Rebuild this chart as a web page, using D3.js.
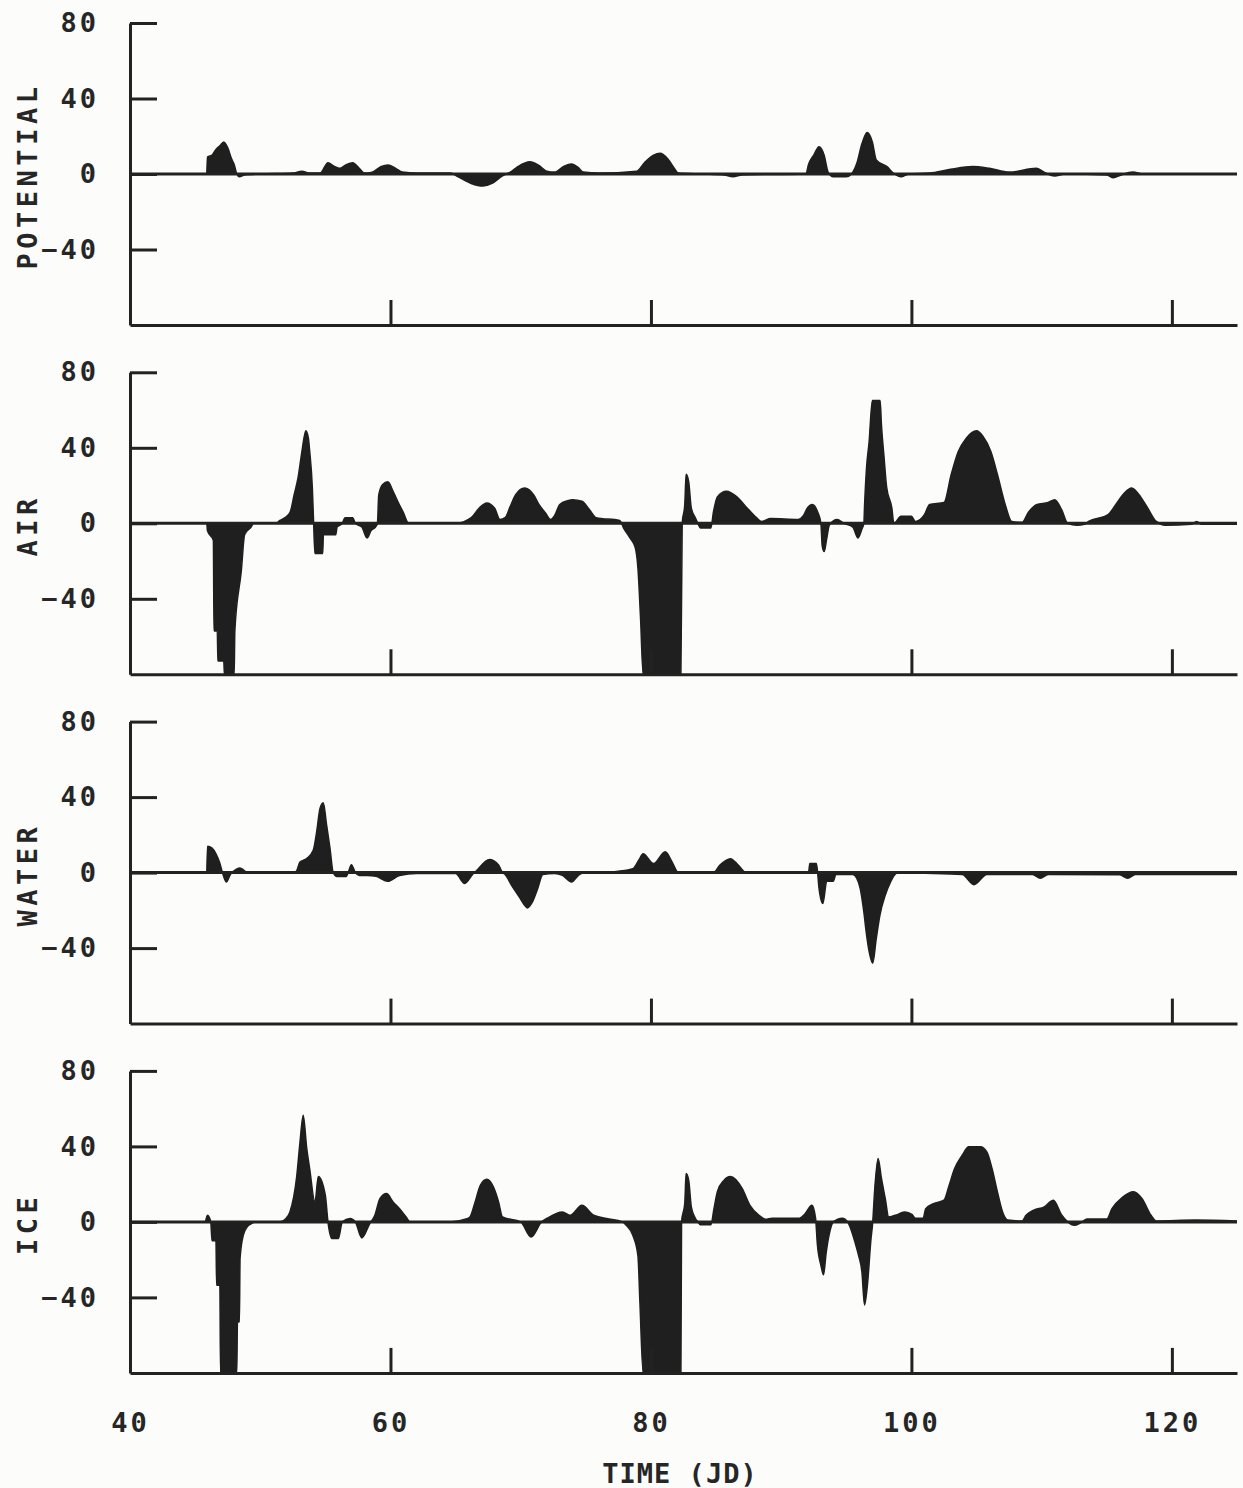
<!DOCTYPE html>
<html>
<head>
<meta charset="utf-8">
<script src="https://cdn.jsdelivr.net/npm/d3@7"></script>
<style>
  html, body { margin: 0; padding: 0; background: #fcfcfa; }
  svg text { font-family: "DejaVu Sans Mono", "Liberation Mono", monospace; font-weight: bold; fill: #262626; }
</style>
</head>
<body>
<div id="chart"></div>
<script>
// [time (JD), value] pairs
var potential = [
  [45.9,0],[45.95,9],[46.3,10],[46.6,13],[46.9,15],[47.2,17],[47.5,14],[47.8,8],[48.0,5],[48.2,0],[48.4,-1.5],[48.8,-0.5],[50,0],
  [52.5,0.5],[53.2,1.5],[53.8,0.5],[54.6,0.5],[55.2,6],[55.7,4],[56.1,3],[56.6,5],[57.1,6],[57.6,3],[58.0,0.5],[58.6,1],
  [59.3,4],[59.8,4.8],[60.4,3],[60.9,1],[62,0.5],[64.6,0.5],[65.2,-1.5],[66.2,-5],[67.1,-6.4],[67.8,-5],[68.6,-1],[69.2,1],
  [69.8,4],[70.7,6.5],[71.4,4.5],[72,1.5],[72.6,1],[73.3,4],[73.9,5.3],[74.4,3.5],[74.8,1],[76,0.5],[78.9,1.5],[79.5,6],
  [80.2,10],[80.7,11],[81.3,8],[81.8,3],[82.1,0.5],[84,0],[85.6,-0.5],[86.3,-1.5],[87,-0.5],[91.9,0],[92.1,5],[92.5,10],
  [92.9,14.5],[93.3,10],[93.6,1],[94,-1.5],[95,-1.5],[95.4,0],[95.8,5.5],[96.2,16],[96.6,22],[97.0,17],[97.3,7.5],[98.1,4],
  [98.7,0],[99.2,-1.5],[99.8,0],[101.4,0.5],[103,2.5],[104.7,4],[106,3],[107.5,1],[109.6,3],[110.3,0.5],[111,-1],[111.8,0],
  [115,-0.5],[115.5,-2],[116.1,-0.5],[117,1],[117.8,0],[125,0]
];

var air = [
  [45.9,0],[45.95,-4],[46.4,-9],[46.45,-57],[46.7,-57],[46.75,-73],[47.2,-73],[47.25,-80],[48.0,-80],[48.05,-57],[48.55,-25],
  [48.8,-6],[49.3,-2],[49.5,0],[51.2,0],[51.5,1.5],[51.9,3],[52.3,6],[52.6,15],[52.9,24],[53.2,38],[53.5,49],[53.7,45],
  [53.8,38],[54.0,19],[54.1,0],[54.2,-16],[54.8,-16],[54.85,-6],[55.8,-6],[55.9,-2],[56.3,0],[56.5,3],[57.1,3],[57.3,0],
  [57.8,-2],[58.2,-7.8],[58.5,-4],[58.9,-1.5],[59.0,0],[59.1,15],[59.4,20.5],[59.8,22],[60.2,17],[60.6,11],[61.0,5.5],
  [61.4,0],[65,0],[66.2,3],[66.8,8],[67.4,10.8],[68,8],[68.4,2],[68.8,3],[69.2,9],[69.6,15],[70.3,18.7],[71,15],[71.4,10],
  [71.9,5.5],[72.3,2],[72.6,4],[73.0,10],[73.6,12],[74.0,12.5],[74.7,11.7],[75.3,7],[75.8,3],[77.6,1.5],[77.9,-2.5],
  [78.4,-7.8],[78.8,-13],[79.0,-23.7],[79.2,-50],[79.4,-80],[82.3,-80],[82.4,0],[82.6,10],[82.7,26],[82.9,22],[83.1,8],
  [83.4,3],[83.6,0],[83.8,-2.5],[84.6,-2.5],[84.8,6],[85.1,14],[85.8,17],[86.6,14],[87.4,8],[88.1,3],[88.5,1],[89.2,2.5],
  [91.3,2],[91.7,4],[92.0,8],[92.4,10],[92.8,6],[93.05,0],[93.15,-12],[93.3,-15],[93.5,-8],[93.7,-1],[94.3,2],[94.8,0],
  [95.5,-2],[95.9,-7.8],[96.2,-3],[96.35,0],[96.4,9],[96.55,29],[96.75,43],[97.0,65],[97.6,65],[97.7,52],[97.9,35],
  [98.1,19],[98.5,8],[98.65,0],[99.2,3.7],[100,3.7],[100.3,1],[101.0,4.6],[101.4,10],[102.5,11],[103.06,26],[103.6,38],
  [104.2,45],[105,49],[105.5,46],[106.1,38],[106.6,26],[107.2,10],[107.7,1],[108.5,0.5],[109.0,6],[109.65,10],[110.5,11],
  [111.0,12.5],[111.55,7],[112,0],[112.7,-1],[113.3,-0.5],[113.6,1],[115.1,4.6],[115.7,10],[116.35,16],[116.9,18.7],
  [117.6,14],[118.15,8],[118.8,1],[119.5,-1],[121.5,-0.5],[121.9,1],[122.3,-0.5],[125,-0.5]
];

var water = [
  [45.9,0],[45.95,14],[46.3,13],[46.6,10],[46.9,5],[47.1,0],[47.4,-5],[47.7,-1],[48.1,1.5],[48.4,2.5],[48.7,1.5],[49,0],
  [52.6,0],[52.8,1],[53.05,5.6],[53.56,7.4],[54.07,11.8],[54.33,21.5],[54.59,34],[54.84,37],[55.1,25],[55.36,12.7],
  [55.6,0],[55.9,-2],[56.6,-2],[56.8,1],[57.0,4.2],[57.3,0],[57.6,-1.5],[58.2,-1.5],[58.9,-2],[59.8,-4.6],[60.7,-1.5],
  [62,-0.5],[65.0,-0.5],[65.7,-5.8],[66.3,-1],[66.6,1],[67.6,7],[68.3,4],[68.6,0],[68.8,-1],[69.3,-6.7],[69.9,-13],
  [70.3,-17.3],[70.5,-18.7],[70.9,-15.5],[71.3,-8.5],[71.7,-1],[72.6,-0.5],[73.2,-1.5],[73.9,-5],[74.5,-1],[75,0],
  [77.2,0.5],[78.6,2],[79.1,7],[79.4,10],[80.2,4.8],[81.1,11],[81.6,6],[82.1,0],[84.8,0],[85.3,4],[86.1,7.4],[86.7,4],
  [87.3,0],[92.1,0],[92.2,4.8],[92.7,4.8],[92.8,0],[92.9,-8],[93.2,-16.4],[93.5,-4.6],[94.0,-4.6],[94.2,-1],[95.5,-1],
  [95.8,-3],[96.07,-8.5],[96.35,-21],[96.53,-31.5],[96.76,-42],[97.03,-48],[97.3,-35],[97.58,-22.6],[97.99,-12],
  [98.4,-5],[98.68,-1.4],[99.1,0.5],[99.5,0],[103.9,-1],[104.8,-6.4],[105.8,-1],[109.3,-1],[109.9,-3],[110.5,-1],
  [116.0,-1.2],[116.6,-3],[117.2,-1],[125,-1]
];

var ice = [
  [45.8,0],[45.95,3.5],[46.2,0],[46.3,-10],[46.6,-10],[46.65,-33.6],[46.9,-33.6],[46.95,-80],[48.2,-80],[48.25,-53],
  [48.4,-53],[48.45,-19.4],[48.7,-7],[49.0,-2.6],[49.3,-1],[49.6,0],[51.5,0],[52.0,2],[52.28,5.3],[52.8,24],[53.05,42],
  [53.3,56.5],[53.57,39],[53.8,28],[54.2,10.6],[54.46,24],[55.0,14],[55.2,0],[55.5,-8.8],[56.0,-8.8],[56.3,0],[56.9,1.8],
  [57.3,0],[57.8,-8.5],[58.4,-1],[58.8,3.5],[59.2,12.4],[59.7,15],[60.2,10.6],[60.7,7],[61.2,2.6],[61.5,0],[64.6,0],
  [65.8,1.5],[66.1,2.6],[66.5,10.6],[66.9,19.4],[67.4,22.6],[67.9,18.6],[68.3,10.6],[68.6,2.6],[70.0,0],[70.8,-8],
  [71.6,0],[72,1.8],[73.2,5.3],[73.8,3.5],[74.7,8.8],[75.6,3.5],[76.6,1.8],[77.8,0],[78.1,-1.8],[78.6,-7],[79.0,-17.7],
  [79.15,-42],[79.4,-80],[82.3,-80],[82.35,0],[82.6,10],[82.7,25.6],[82.9,22],[83.1,8],[83.4,2],[83.6,0],[83.8,-1.5],
  [84.6,-1.5],[84.84,7],[85.1,16],[85.6,22],[86.1,24],[87.0,17.7],[87.6,8.8],[88.3,3.5],[88.8,1.4],[89.3,2],[91.4,2],
  [91.8,4],[92.36,8.8],[92.64,2],[92.78,-12],[93.05,-23],[93.25,-28],[93.46,-16],[93.74,-5],[94.0,0],[94.7,2],[95.1,0],
  [95.25,-2],[95.66,-10.6],[95.94,-17.7],[96.2,-26.5],[96.4,-44],[96.6,-35],[96.9,-8.8],[97.03,0],[97.17,16],[97.44,33.6],
  [97.7,23],[97.99,12.4],[98.26,2.6],[98.96,4],[99.5,5.3],[100.04,4],[100.3,2],[100.9,2],[101.1,7],[101.7,9.7],
  [102.5,11.5],[102.9,19.4],[103.3,28],[103.9,35.3],[104.4,39.8],[105.3,39.8],[105.8,37],[106.2,28],[106.6,16],[107.0,5.3],
  [107.4,1],[108.5,0.5],[108.8,3.5],[109.4,6.2],[110.2,8],[110.9,11.5],[111.55,3.5],[112.0,0],[112.5,-1.8],[113.0,-0.5],
  [113.5,1.5],[115.0,1.5],[115.4,7],[116.2,13],[117.05,16],[117.7,12.4],[118.4,3.5],[118.8,0.5],[121.8,1],[125,0.5]
];

var panelNames = ["POTENTIAL", "AIR", "WATER", "ICE"];
var panelData = [potential, air, water, ice];
var yTicks = [80, 40, 0, -40];
var xTicks = [60, 80, 100, 120];
var xLabels = [40, 60, 80, 100, 120];

var width = 1243, height = 1488;
var left = 130, right = 1237;
var firstTop = 23, panelStep = 349.3, panelH = 302;

var svg = d3.select("#chart").append("svg")
  .attr("width", width)
  .attr("height", height);

svg.append("rect")
  .attr("width", width)
  .attr("height", height)
  .attr("fill", "#fcfcfa");

var x = d3.scaleLinear().domain([40, 125]).range([left, right]);

panelData.forEach(function (series, i) {
  var top = firstTop + i * panelStep;
  var y = d3.scaleLinear().domain([-80, 80]).range([top + panelH, top]);
  var g = svg.append("g");

  g.append("clipPath")
    .attr("id", "clip" + i)
    .append("rect")
    .attr("x", left)
    .attr("y", top)
    .attr("width", right - left)
    .attr("height", panelH);

  var area = d3.area()
    .curve(d3.curveMonotoneX)
    .x(function (d) { return x(d[0]); })
    .y0(y(0))
    .y1(function (d) { return y(d[1]); });

  g.append("path")
    .datum(series)
    .attr("clip-path", "url(#clip" + i + ")")
    .attr("d", area)
    .attr("fill", "#1f1f1f")
    .attr("stroke", "#1f1f1f")
    .attr("stroke-width", 1.5)
    .attr("stroke-linejoin", "round");

  // zero line
  g.append("line")
    .attr("x1", left)
    .attr("x2", right)
    .attr("y1", y(0))
    .attr("y2", y(0))
    .attr("stroke", "#222")
    .attr("stroke-width", 3);

  var yAxis = g.append("g")
    .attr("transform", "translate(" + left + ",0)")
    .call(d3.axisLeft(y).tickValues(yTicks).tickSize(-27).tickSizeOuter(0).tickPadding(31));

  var xAxis = g.append("g")
    .attr("transform", "translate(0," + (top + panelH) + ")")
    .call(d3.axisBottom(x)
      .tickValues(i === 3 ? xLabels : xTicks)
      .tickSize(-25)
      .tickSizeOuter(0)
      .tickPadding(40)
      .tickFormat(i === 3 ? d3.format("d") : ""));

  [yAxis, xAxis].forEach(function (ax) {
    ax.select(".domain").attr("stroke", "#222").attr("stroke-width", 3);
    ax.selectAll(".tick line").attr("stroke", "#222").attr("stroke-width", 3);
    ax.selectAll(".tick text")
      .attr("font-size", 27)
      .attr("letter-spacing", 3)
      .attr("fill", "#262626");
  });
  xAxis.selectAll(".tick").filter(function (d) { return d === 40; }).select("line").remove();

  svg.append("text")
    .attr("transform", "translate(37," + (y(0) + 2) + ") rotate(-90)")
    .attr("text-anchor", "middle")
    .attr("font-size", 27)
    .attr("letter-spacing", 4.5)
    .text(panelNames[i]);
});

svg.append("text")
  .attr("x", 680)
  .attr("y", 1483)
  .attr("text-anchor", "middle")
  .attr("font-size", 27)
  .attr("letter-spacing", 1)
  .text("TIME (JD)");
</script>
</body>
</html>
